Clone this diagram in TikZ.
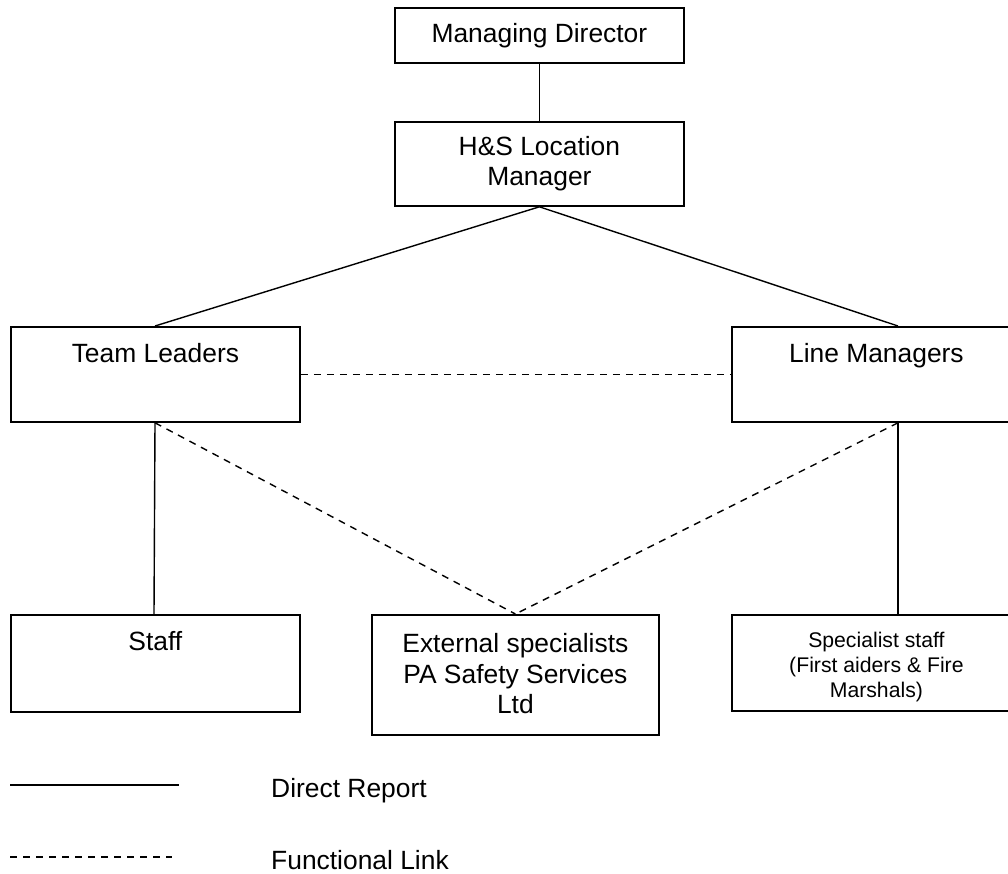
\documentclass[tikz,border=0pt]{standalone}
\usepackage{fontspec}
\setmainfont{Liberation Sans}
\usetikzlibrary{calc}
\tikzset{
  box/.style={draw, line width=1.8pt, rectangle, inner sep=0pt},
  txt/.style={inner sep=0pt, align=center, font=\fontsize{26.4}{30.4}\selectfont},
  smalltxt/.style={inner sep=0pt, align=center, font=\fontsize{21.2}{25}\selectfont},
  direct/.style={line width=1.4pt},
  functional/.style={line width=1.4pt, dash pattern=on 7pt off 6pt},
}
\begin{document}
\begin{tikzpicture}[x=1pt,y=-1pt]
\useasboundingbox (0,0) rectangle (1008,873);
% boxes
\node[box, minimum width=289pt, minimum height=55pt, anchor=north west] (md) at (394,7) {};
\node[txt, anchor=base] (mdt) at ($(md.north)+(0,35.5)$) {Managing Director};
\node[box, minimum width=289pt, minimum height=84pt, anchor=north west] (hs) at (394,121) {};
\node[txt] (hst) at (hs.center) {H\&S Location\\Manager};
\node[box, minimum width=289pt, minimum height=95pt, anchor=north west] (tl) at (10,326) {};
\node[txt, anchor=base] (tlt) at ($(tl.north)+(0,36.5)$) {Team Leaders};
\node[box, minimum width=289pt, minimum height=95pt, anchor=north west] (lm) at (731,326) {};
\node[txt, anchor=base] (lmt) at ($(lm.north)+(0,36.5)$) {Line Managers};
\node[box, minimum width=289pt, minimum height=97pt, anchor=north west] (st) at (10,614) {};
\node[txt, anchor=base] (stt) at ($(st.north)+(0,36.5)$) {Staff};
\node[box, minimum width=287pt, minimum height=120pt, anchor=north west] (ex) at (371,614) {};
\node[txt] (ext) at ($(ex.center)+(0,-1)$) {External specialists\\PA Safety Services\\Ltd};
\node[box, minimum width=289pt, minimum height=96pt, anchor=north west] (ss) at (731,614) {};
\node[smalltxt] (sst) at ($(ss.center)+(0,4.5)$) {Specialist staff\\(First aiders \& Fire\\Marshals)};
% connection points
\coordinate (lmtop) at ($(lm.north west)+(167,0)$);
\coordinate (lmbot) at ($(lm.south west)+(167,0)$);
\coordinate (sstop) at ($(ss.north west)+(167,0)$);
\coordinate (tltop) at ($(tl.north west)+(145,0)$);
\coordinate (tlbot) at ($(tl.south west)+(145,0)$);
\coordinate (sttop) at ($(st.north west)+(144,0)$);
% connectors
\draw[direct] (md.south) -- (hs.north);
\draw[direct] (hs.south) -- (tltop);
\draw[direct] (hs.south) -- (lmtop);
\draw[functional] (tl.east) -- (lm.west);
\draw[direct] (tlbot) -- (sttop);
\draw[direct] (lmbot) -- (sstop);
\draw[functional] (tlbot) -- (ex.north);
\draw[functional] (lmbot) -- (ex.north);
% legend
\coordinate (l1a) at (10,785);
\coordinate (l1b) at (179,785);
\coordinate (l2a) at (10,857);
\coordinate (l2b) at (172,857);
\draw[direct] (l1a) -- (l1b);
\draw[functional] (l2a) -- (l2b);
\node[txt, anchor=base west] (lg1) at (271,797) {Direct Report};
\node[txt, anchor=base west] (lg2) at (271,869) {Functional Link};
\end{tikzpicture}
\end{document}
